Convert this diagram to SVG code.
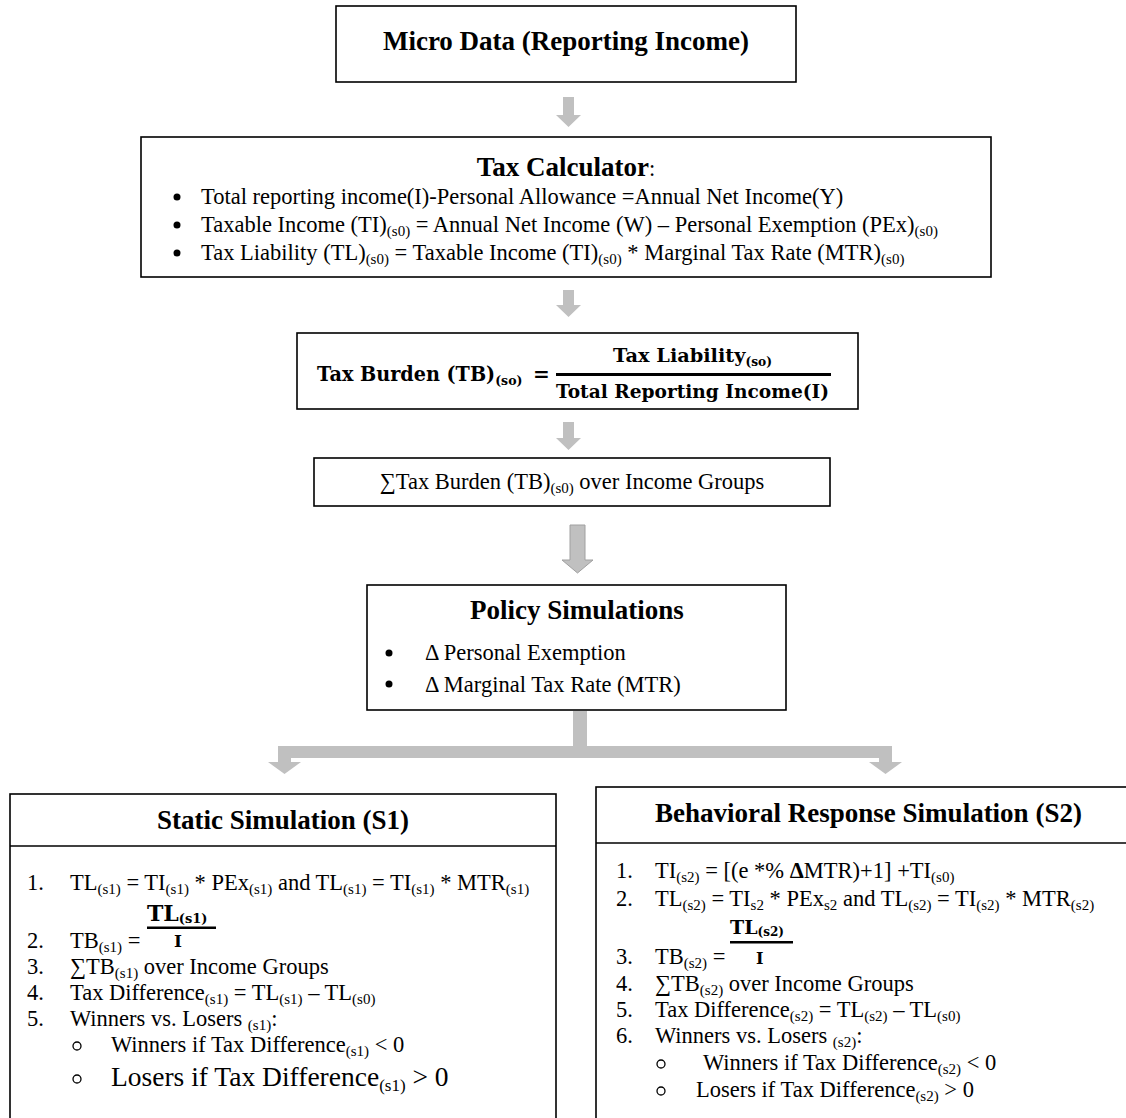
<svg xmlns="http://www.w3.org/2000/svg" width="1126" height="1118" viewBox="0 0 1126 1118">
<style>
.box{fill:#fff;stroke:#000;stroke-width:1.6}
.t{font-family:"Liberation Serif","Times New Roman",serif;font-size:22.5px;fill:#000}
.h{font-family:"Liberation Serif","Times New Roman",serif;font-size:27px;font-weight:bold;fill:#000}
.s{font-size:15px}
.f{font-family:"DejaVu Serif","Liberation Serif",serif;font-weight:bold;fill:#000}
.arr{fill:#c0c0c0}
.bl{fill:#000}
.ob{fill:none;stroke:#000;stroke-width:1.3}
</style>
<rect width="1126" height="1118" fill="#fff"/>
<g id="connectors" class="arr">
<polygon points="563,97 574,97 574,115 581,115 568.5,127 556,115 563,115"/>
<polygon points="563,290 574,290 574,305 581,305 568.5,317 556,305 563,305"/>
<polygon points="563,422 574,422 574,438 581,438 568.5,450 556,438 563,438"/>
<polygon points="570,525 585,525 585,560 593,560 577.5,573 562,560 570,560" stroke="#a0a0a0" stroke-width="1"/>
<rect x="573" y="711" width="14" height="47"/>
<rect x="278" y="746" width="614" height="12"/>
<polygon points="278,758 291,758 291,762 301,762 284.5,774 268,762 278,762"/>
<polygon points="879,758 892,758 892,762 902,762 885.5,774 869,762 879,762"/>
</g>
<g id="micro-data">
<rect class="box" x="336" y="6" width="460" height="76"/>
<text class="h" x="566" y="50" text-anchor="middle">Micro Data (Reporting Income)</text>
</g>
<g id="tax-calculator">
<rect class="box" x="141" y="137" width="850" height="140"/>
<text class="t" x="566" y="176" text-anchor="middle"><tspan class="h">Tax Calculator</tspan>:</text>
<circle class="bl" cx="177" cy="197" r="3.5"/>
<circle class="bl" cx="177" cy="225" r="3.5"/>
<circle class="bl" cx="177" cy="253" r="3.5"/>
<text class="t" x="201" y="204">Total reporting income(I)-Personal Allowance =Annual Net Income(Y)</text>
<text class="t" x="201" y="232">Taxable Income (TI)<tspan class="s" dy="4">(s0)</tspan><tspan dy="-4"> = Annual Net Income (W) – Personal Exemption (PEx)</tspan><tspan class="s" dy="4">(s0)</tspan></text>
<text class="t" x="201" y="260">Tax Liability (TL)<tspan class="s" dy="4">(s0)</tspan><tspan dy="-4"> = Taxable Income (TI)</tspan><tspan class="s" dy="4">(s0)</tspan><tspan dy="-4"> * Marginal Tax Rate (MTR)</tspan><tspan class="s" dy="4">(s0)</tspan></text>
</g>
<g id="tax-burden">
<rect class="box" x="297" y="333" width="561" height="76"/>
<text class="f" transform="translate(317,381) scale(0.96,1)" x="0" y="0" font-size="20">Tax Burden (TB)<tspan font-size="13" dy="4">(so)</tspan></text>
<text class="f" x="533" y="381" font-size="20">=</text>
<text class="f" x="613" y="362" font-size="19" textLength="159" lengthAdjust="spacingAndGlyphs">Tax Liability<tspan font-size="12" dy="4">(so)</tspan></text>
<rect class="bl" x="556" y="373" width="275" height="3"/>
<text class="f" x="556" y="398" font-size="19" textLength="273" lengthAdjust="spacingAndGlyphs">Total Reporting Income(I)</text>
</g>
<g id="sum-tax-burden">
<rect class="box" x="314" y="458" width="516" height="48"/>
<text class="t" x="572" y="489" text-anchor="middle">∑Tax Burden (TB)<tspan class="s" dy="4">(s0)</tspan><tspan dy="-4"> over Income Groups</tspan></text>
</g>
<g id="policy-simulations">
<rect class="box" x="367" y="585" width="419" height="125"/>
<text class="h" x="577" y="619" text-anchor="middle">Policy Simulations</text>
<circle class="bl" cx="389" cy="653" r="3.5"/>
<circle class="bl" cx="389" cy="684" r="3.5"/>
<text class="t" x="425" y="660">Δ Personal Exemption</text>
<text class="t" x="425" y="692">Δ Marginal Tax Rate (MTR)</text>
</g>
<g id="static-simulation">
<rect class="box" x="10" y="794" width="546" height="340"/>
<line x1="10" y1="846" x2="556" y2="846" stroke="#000" stroke-width="1.6"/>
<text class="h" x="283" y="829" text-anchor="middle">Static Simulation (S1)</text>
<text class="t" x="27" y="890">1.</text>
<text class="t" x="70" y="890">TL<tspan class="s" dy="4">(s1)</tspan><tspan dy="-4"> = TI</tspan><tspan class="s" dy="4">(s1)</tspan><tspan dy="-4"> * PEx</tspan><tspan class="s" dy="4">(s1)</tspan><tspan dy="-4"> and TL</tspan><tspan class="s" dy="4">(s1)</tspan><tspan dy="-4"> = TI</tspan><tspan class="s" dy="4">(s1)</tspan><tspan dy="-4"> * MTR</tspan><tspan class="s" dy="4">(s1)</tspan></text>
<text class="f" x="147" y="921" font-size="22">TL<tspan font-size="13" dy="2">(s1)</tspan></text>
<rect class="bl" x="147" y="926.5" width="69" height="2.5"/>
<text class="f" x="174" y="947" font-size="17">I</text>
<text class="t" x="27" y="948">2.</text>
<text class="t" x="70" y="948">TB<tspan class="s" dy="4">(s1)</tspan><tspan dy="-4"> =</tspan></text>
<text class="t" x="27" y="974">3.</text>
<text class="t" x="70" y="974">∑TB<tspan class="s" dy="4">(s1)</tspan><tspan dy="-4"> over Income Groups</tspan></text>
<text class="t" x="27" y="1000">4.</text>
<text class="t" x="70" y="1000">Tax Difference<tspan class="s" dy="4">(s1)</tspan><tspan dy="-4"> = TL</tspan><tspan class="s" dy="4">(s1)</tspan><tspan dy="-4"> – TL</tspan><tspan class="s" dy="4">(s0)</tspan></text>
<text class="t" x="27" y="1026">5.</text>
<text class="t" x="70" y="1026">Winners vs. Losers <tspan class="s" dy="4">(s1)</tspan><tspan dy="-4">:</tspan></text>
<circle class="ob" cx="77" cy="1046" r="4"/>
<text class="t" x="111" y="1052">Winners if Tax Difference<tspan class="s" dy="4">(s1)</tspan><tspan dy="-4"> &lt; 0</tspan></text>
<circle class="ob" cx="77" cy="1079" r="4"/>
<text class="t" x="111" y="1086" style="font-size:27.5px">Losers if Tax Difference<tspan style="font-size:17px" dy="5">(s1)</tspan><tspan dy="-5"> &gt; 0</tspan></text>
</g>
<g id="behavioral-simulation">
<rect class="box" x="596" y="787" width="545" height="350"/>
<line x1="596" y1="843" x2="1126" y2="843" stroke="#000" stroke-width="1.6"/>
<text class="h" x="868.5" y="822" text-anchor="middle">Behavioral Response Simulation (S2)</text>
<text class="t" x="616" y="878">1.</text>
<text class="t" x="655" y="878">TI<tspan class="s" dy="4">(s2)</tspan><tspan dy="-4"> = [(e *% </tspan><tspan font-weight="bold">Δ</tspan>MTR)+1] +TI<tspan class="s" dy="4">(s0)</tspan></text>
<text class="t" x="616" y="906">2.</text>
<text class="t" x="655" y="906">TL<tspan class="s" dy="4">(s2)</tspan><tspan dy="-4"> = TI</tspan><tspan class="s" dy="4">s2</tspan><tspan dy="-4"> * PEx</tspan><tspan class="s" dy="4">s2</tspan><tspan dy="-4"> and TL</tspan><tspan class="s" dy="4">(s2)</tspan><tspan dy="-4"> = TI</tspan><tspan class="s" dy="4">(s2)</tspan><tspan dy="-4"> * MTR</tspan><tspan class="s" dy="4">(s2)</tspan></text>
<text class="f" x="730" y="934" font-size="19">TL<tspan font-size="12" dy="2">(s2)</tspan></text>
<rect class="bl" x="730" y="941" width="63" height="2.5"/>
<text class="f" x="756" y="964" font-size="16">I</text>
<text class="t" x="616" y="964">3.</text>
<text class="t" x="655" y="964">TB<tspan class="s" dy="4">(s2)</tspan><tspan dy="-4"> =</tspan></text>
<text class="t" x="616" y="991">4.</text>
<text class="t" x="655" y="991">∑TB<tspan class="s" dy="4">(s2)</tspan><tspan dy="-4"> over Income Groups</tspan></text>
<text class="t" x="616" y="1017">5.</text>
<text class="t" x="655" y="1017">Tax Difference<tspan class="s" dy="4">(s2)</tspan><tspan dy="-4"> = TL</tspan><tspan class="s" dy="4">(s2)</tspan><tspan dy="-4"> – TL</tspan><tspan class="s" dy="4">(s0)</tspan></text>
<text class="t" x="616" y="1043">6.</text>
<text class="t" x="655" y="1043">Winners vs. Losers <tspan class="s" dy="4">(s2)</tspan><tspan dy="-4">:</tspan></text>
<circle class="ob" cx="661" cy="1064" r="4"/>
<text class="t" x="703" y="1070">Winners if Tax Difference<tspan class="s" dy="4">(s2)</tspan><tspan dy="-4"> &lt; 0</tspan></text>
<circle class="ob" cx="661" cy="1091" r="4"/>
<text class="t" x="696" y="1097">Losers if Tax Difference<tspan class="s" dy="4">(s2)</tspan><tspan dy="-4"> &gt; 0</tspan></text>
</g>
</svg>
